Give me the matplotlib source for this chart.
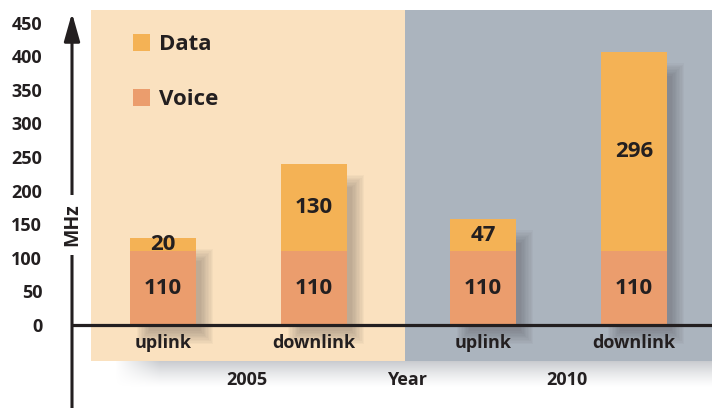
import numpy as np
import matplotlib.pyplot as plt
import matplotlib.transforms as mtransforms
from matplotlib.patches import Rectangle

plt.rcParams['font.family'] = ['Open Sans', 'DejaVu Sans']
plt.rcParams['font.weight'] = 'bold'

# data
years = ['2005', '2010']
links = ['uplink', 'downlink', 'uplink', 'downlink']
voice = [110, 110, 110, 110]
data = [20, 130, 47, 296]
yticks = [0, 50, 100, 150, 200, 250, 300, 350, 400, 450]

ink = '#231f20'
c_data = '#f4b255'
c_voice = '#eb9d6d'
peach = '#fae1bf'
slate = '#abb4be'

W, H = 712, 408
fig = plt.figure(figsize=(W / 100, H / 100), dpi=100)

# background panels, in pixel units
bg = fig.add_axes([0, 0, 1, 1], zorder=-1)
bg.set_xlim(0, W)
bg.set_ylim(H, 0)
bg.axis('off')
bg.add_patch(Rectangle((91, 10), 314, 351, color=peach, lw=0))
bg.add_patch(Rectangle((405, 10), 307, 351, color=slate, lw=0))
# soft shadow strip under the panels
rows, cols = 27, 597
vert = np.linspace(1, 0, rows)[:, None] ** 1.3
horiz = np.clip(np.arange(cols) / 45.0, 0, 1)[None, :]
grad = np.zeros((rows, cols, 4))
grad[..., 0] = 0.74
grad[..., 1] = 0.75
grad[..., 2] = 0.77
grad[..., 3] = vert * horiz * 0.8
bg.imshow(grad, extent=(115, 712, 388, 361), aspect='auto', interpolation='bilinear')
bg.set_xlim(0, W)
bg.set_ylim(H, 0)

# main axes: y=0 at pixel 325, 0.672 px per MHz
scale = 0.672
x_left = 72
ax = fig.add_axes([x_left / W, 0, (W - x_left) / W, 1])
ax.set_facecolor('none')
ax.set_xlim((x_left - 238.5) / 320, (W - 238.5) / 320)
ax.set_ylim(-(H - 325) / scale, 325 / scale)
for s in ax.spines.values():
    s.set_visible(False)

groups = [0, 1]
offs = [-0.236, 0.236]
x = [g + o for g in groups for o in offs]
width = 0.209
px_x = 1 / 320    # one pixel in x data units
px_y = 1 / scale  # one pixel in y data units

def px_offset(dx, dy):
    return mtransforms.ScaledTranslation(dx / 100, dy / 100, fig.dpi_scale_trans)

# blurred drop shadows: stacked rectangles shrinking inward
for xi, v, d in zip(x, voice, data):
    x0 = xi - width / 2 + 12 * px_x
    x1 = xi + width / 2 + 12 * px_x
    y0 = -14 * px_y
    y1 = v + d - 16 * px_y
    for i in range(10):
        m = (5 - i * 1.4)
        ax.add_patch(Rectangle((x0 - m * px_x, y0 - m * px_y),
                               (x1 - x0) + 2 * m * px_x, (y1 - y0) + 2 * m * px_y,
                               facecolor=(0.2, 0.18, 0.2, 0.03), lw=0, zorder=2))

vbars = ax.bar(x, voice, width=width, color=c_voice, zorder=3)
dbars = ax.bar(x, data, width=width, bottom=voice, color=c_data, zorder=3)

for xi, v, d in zip(x, voice, data):
    ax.text(xi, v / 2, str(v), ha='center', va='center', fontsize=16, color=ink, zorder=5)
    ax.text(xi, v + d / 2, str(d), ha='center', va='center', fontsize=16, color=ink, zorder=5)

# axis lines
ax.axhline(0, color=ink, lw=2.3, zorder=4)
ax.annotate('', xy=(0, 1 - 13 / H), xytext=(0, 0), xycoords='axes fraction',
            arrowprops=dict(arrowstyle='-|>,head_length=0.85,head_width=0.24',
                            mutation_scale=20, lw=2.2, color=ink, shrinkA=0, shrinkB=0),
            zorder=4)
ax.text(ax.get_xlim()[0], (325 - 225) / scale, 'MHz', rotation=90, ha='center', va='center',
        fontsize=14, color=ink, zorder=5,
        bbox=dict(boxstyle='square,pad=0.45', fc='white', ec='none'))

ax.set_yticks(yticks)
ax.set_yticklabels([str(t) for t in yticks])
ax.tick_params(axis='y', length=0, pad=21.5, labelsize=13, labelcolor=ink)
ax.set_xticks([])

# category and year labels
for xi, lab in zip(x, links):
    ax.text(xi, 0, lab, ha='center', va='center', fontsize=13, color=ink,
            transform=ax.transData + px_offset(0, -18))
for g, yr in zip(groups, years):
    ax.text(g, 0, yr, ha='center', va='center', fontsize=13, color=ink,
            transform=ax.transData + px_offset(8, -55))
ax.text(0.527, 0, 'Year', ha='center', va='center', fontsize=13, color=ink,
        transform=ax.transData + px_offset(0, -55))

ax.legend([dbars, vbars], ['Data', 'Voice'], loc='upper left',
          bbox_to_anchor=(133 / W, 1 - 34 / H), bbox_transform=fig.transFigure,
          frameon=False, fontsize=16, handlelength=0.77, handleheight=0.77,
          handletextpad=0.4, labelspacing=1.55, borderpad=0, borderaxespad=0,
          labelcolor=ink)

fig.savefig('out.png', dpi=100)
